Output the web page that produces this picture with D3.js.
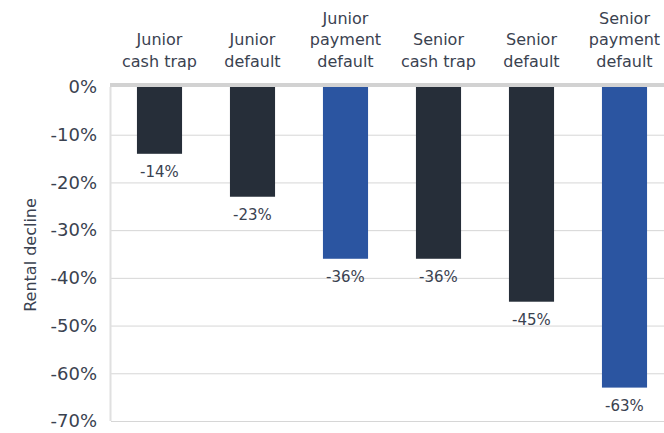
<!DOCTYPE html>
<html>
<head>
<meta charset="utf-8">
<script src="https://cdn.jsdelivr.net/npm/d3@7"></script>
<style>
  body { margin: 0; background: #fff; }
  svg text { font-family: "DejaVu Sans", sans-serif; fill: #3a4250; }
</style>
</head>
<body>
<svg id="chart"></svg>
<script>
// Categories (split into lines) and their values
const categories = [
    ['Junior', 'cash trap'],
    ['Junior', 'default'],
    ['Junior', 'payment', 'default'],
    ['Senior', 'cash trap'],
    ['Senior', 'default'],
    ['Senior', 'payment', 'default']
];
const values = [-14, -23, -36, -36, -45, -63];
const highlight = [false, false, true, false, false, true];
const yTicks = [0, -10, -20, -30, -40, -50, -60, -70];

const width = 664;
const height = 433;

let svg = d3.select('#chart')
    .attr('width', width)
    .attr('height', height);

// Scales
let xScale = d3.scaleBand()
    .domain(d3.range(categories.length))
    .range([113, 671])
    .paddingInner(0.515)
    .paddingOuter(0.2575);

let yScale = d3.scaleLinear()
    .domain([0, -70])
    .range([87, 421]);

// Gridlines
svg.append('g')
    .selectAll('line')
    .data(yTicks.filter(d => d !== 0))
    .enter()
    .append('line')
    .attr('x1', 111)
    .attr('x2', width)
    .attr('y1', d => yScale(d) + 0.5)
    .attr('y2', d => yScale(d) + 0.5)
    .attr('stroke', '#d6d6d6')
    .attr('stroke-width', 1);

// Left axis line
svg.append('line')
    .attr('x1', 110.5)
    .attr('x2', 110.5)
    .attr('y1', yScale(0))
    .attr('y2', yScale(-70))
    .attr('stroke', '#e0e0e0')
    .attr('stroke-width', 2);

// Y tick labels
svg.append('g')
    .selectAll('text')
    .data(yTicks)
    .enter()
    .append('text')
    .attr('x', 97)
    .attr('y', d => yScale(d))
    .attr('dy', '0.35em')
    .attr('text-anchor', 'end')
    .style('font-size', '18px')
    .text(d => d + '%');

// Y axis title
svg.append('text')
    .attr('transform', 'translate(30,' + 255 + ') rotate(-90)')
    .attr('text-anchor', 'middle')
    .attr('dy', '0.35em')
    .style('font-size', '16px')
    .text('Rental decline');

// Bars
svg.append('g')
    .selectAll('rect')
    .data(values)
    .enter()
    .append('rect')
    .attr('x', (d, i) => xScale(i))
    .attr('y', yScale(0))
    .attr('width', xScale.bandwidth())
    .attr('height', d => yScale(d) - yScale(0))
    .attr('fill', (d, i) => highlight[i] ? '#2b55a1' : '#262e39');

// Zero line
svg.append('line')
    .attr('x1', 110)
    .attr('x2', width)
    .attr('y1', yScale(0) - 2)
    .attr('y2', yScale(0) - 2)
    .attr('stroke', '#d2d2d2')
    .attr('stroke-width', 4);

// Value labels
svg.append('g')
    .selectAll('text')
    .data(values)
    .enter()
    .append('text')
    .attr('x', (d, i) => xScale(i) + xScale.bandwidth() / 2)
    .attr('y', d => yScale(d) + 18)
    .attr('dy', '0.35em')
    .attr('text-anchor', 'middle')
    .style('font-size', '15px')
    .text(d => d + '%');

// Category labels, bottom-aligned above the chart
let catGroups = svg.append('g')
    .selectAll('text')
    .data(categories)
    .enter()
    .append('text')
    .attr('text-anchor', 'middle')
    .style('font-size', '16px');

catGroups.each(function(lines, i) {
    let t = d3.select(this);
    let cx = xScale(i) + xScale.bandwidth() / 2;
    lines.forEach((line, j) => {
        let fromBottom = lines.length - 1 - j;
        t.append('tspan')
            .attr('x', cx)
            .attr('y', 61 - fromBottom * 21.5)
            .attr('dy', '0.35em')
            .text(line);
    });
});
</script>
</body>
</html>
